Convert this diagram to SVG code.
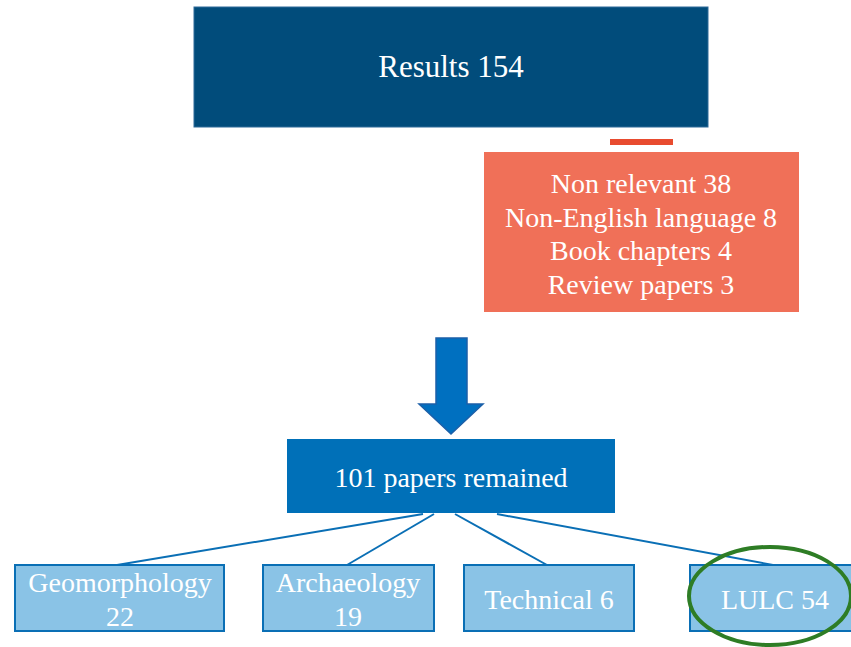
<svg xmlns="http://www.w3.org/2000/svg" width="851" height="647" viewBox="0 0 851 647">
<style>
text{font-family:"Liberation Serif","Times New Roman",serif;fill:#ffffff;text-anchor:middle;font-size:28px}
.leaf{fill:#8AC3E6;stroke:#0A6FB5;stroke-width:2}
.conn{stroke:#0A6FB5;stroke-width:2;fill:none}
</style>
<rect width="851" height="647" fill="#ffffff"/>
<g id="results">
<rect x="194" y="7" width="514" height="120" fill="#014C7B" stroke="#2E6A99" stroke-width="1"/>
<text x="451" y="77" style="font-size:31px">Results 154</text>
</g>
<g id="minus">
<rect x="610" y="139" width="63" height="6" fill="#E84B2F"/>
</g>
<g id="excluded">
<rect x="484" y="152" width="315" height="160" fill="#F07058"/>
<text x="641" y="193">Non relevant 38</text>
<text x="641" y="227">Non-English language 8</text>
<text x="641" y="260">Book chapters 4</text>
<text x="641" y="294">Review papers 3</text>
</g>
<g id="arrow">
<path d="M436,338 H467 V404 H483 L451,434 L419,404 H436 Z" fill="#0070C0" stroke="#1B5FA8" stroke-width="1.5"/>
</g>
<g id="remained">
<rect x="287" y="439" width="328" height="74" fill="#0070B8"/>
<text x="451" y="487">101 papers remained</text>
</g>
<g id="connectors">
<line class="conn" x1="423" y1="514" x2="117" y2="565"/>
<line class="conn" x1="434" y1="514" x2="347" y2="565"/>
<line class="conn" x1="455" y1="514" x2="547" y2="565"/>
<line class="conn" x1="497" y1="514" x2="773" y2="565"/>
</g>
<g id="geomorphology">
<rect class="leaf" x="15" y="565" width="209" height="66"/>
<text x="120" y="592">Geomorphology</text>
<text x="120" y="626">22</text>
</g>
<g id="archaeology">
<rect class="leaf" x="263" y="565" width="171" height="66"/>
<text x="348" y="592">Archaeology</text>
<text x="348" y="626">19</text>
</g>
<g id="technical">
<rect class="leaf" x="464" y="565" width="170" height="66"/>
<text x="549" y="609">Technical 6</text>
</g>
<g id="lulc">
<rect class="leaf" x="690" y="565" width="170" height="66"/>
<text x="775" y="609">LULC 54</text>
</g>
<g id="highlight">
<ellipse cx="770" cy="596" rx="81" ry="49" fill="none" stroke="#2E7D25" stroke-width="4"/>
</g>
</svg>
